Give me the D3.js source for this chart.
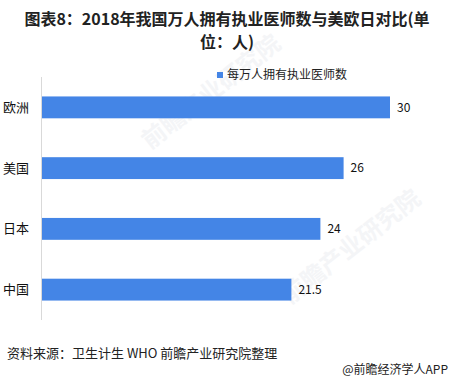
<!DOCTYPE html>
<html>
<head>
<meta charset="utf-8">
<script src="https://cdn.jsdelivr.net/npm/d3@7"></script>
<style>
  body { margin: 0; background: #fff; }
  svg { font-family: "Noto Sans CJK SC", "Noto Sans", sans-serif; }
</style>
</head>
<body>
<div id="chart"></div>
<script>
// data
let regions = ["欧洲", "美国", "日本", "中国"];
let doctors = [30, 26, 24, 21.5];
let seriesName = "每万人拥有执业医师数";
let titleLines = ["图表8：2018年我国万人拥有执业医师数与美欧日对比(单", "位：人)"];
let sourceText = "资料来源：卫生计生 WHO 前瞻产业研究院整理";
let brandText = "@前瞻经济学人APP";

let width = 454, height = 386;
let barColor = "#4485e6";

let svg = d3.select("#chart").append("svg")
  .attr("width", width)
  .attr("height", height);

// faint watermarks
let marks = [[150, 150], [290, 305]];
marks.forEach(m => {
  svg.append("text")
    .attr("transform", `translate(${m[0]},${m[1]}) rotate(-38)`)
    .attr("font-size", 24)
    .attr("font-weight", "bold")
    .attr("fill", "#f4f5f7")
    .text("前瞻产业研究院");
});

// title, two lines
titleLines.forEach((t, i) => {
  svg.append("text")
    .attr("x", width / 2)
    .attr("y", 25 + i * 23)
    .attr("text-anchor", "middle")
    .attr("font-size", 16)
    .attr("font-weight", "bold")
    .attr("fill", "#222")
    .text(t);
});

let x = d3.scaleLinear().domain([0, 30]).range([42, 390]);
let y = d3.scaleBand().domain(regions).range([77, 320]).paddingInner(0.64).paddingOuter(0.32);

// axis line
svg.append("line")
  .attr("x1", 41.5).attr("x2", 41.5)
  .attr("y1", 77).attr("y2", 320)
  .attr("stroke", "#d9d9d9");

svg.selectAll("rect.bar")
  .data(doctors)
  .enter().append("rect")
  .attr("class", "bar")
  .attr("x", x(0))
  .attr("y", (d, i) => y(regions[i]))
  .attr("width", d => x(d) - x(0))
  .attr("height", y.bandwidth())
  .attr("fill", barColor);

svg.selectAll("text.val")
  .data(doctors)
  .enter().append("text")
  .attr("class", "val")
  .attr("x", d => x(d) + 7)
  .attr("y", (d, i) => y(regions[i]) + y.bandwidth() / 2)
  .attr("dy", "0.35em")
  .attr("font-size", 12)
  .attr("fill", "#111")
  .text(d => d);

svg.selectAll("text.cat")
  .data(regions)
  .enter().append("text")
  .attr("class", "cat")
  .attr("x", 3)
  .attr("y", d => y(d) + y.bandwidth() / 2)
  .attr("dy", "0.35em")
  .attr("font-size", 13)
  .attr("fill", "#111")
  .text(d => d);

// legend
svg.append("rect")
  .attr("x", 217).attr("y", 72)
  .attr("width", 6).attr("height", 6)
  .attr("fill", barColor);
svg.append("text")
  .attr("x", 227).attr("y", 75)
  .attr("dy", "0.35em")
  .attr("font-size", 12)
  .attr("fill", "#222")
  .text(seriesName);

// footer
svg.append("text")
  .attr("x", 7).attr("y", 353)
  .attr("dy", "0.35em")
  .attr("font-size", 13)
  .attr("fill", "#222")
  .text(sourceText);
svg.append("text")
  .attr("x", 448).attr("y", 370)
  .attr("dy", "0.35em")
  .attr("text-anchor", "end")
  .attr("font-size", 12)
  .attr("fill", "#222")
  .text(brandText);
</script>
</body>
</html>
